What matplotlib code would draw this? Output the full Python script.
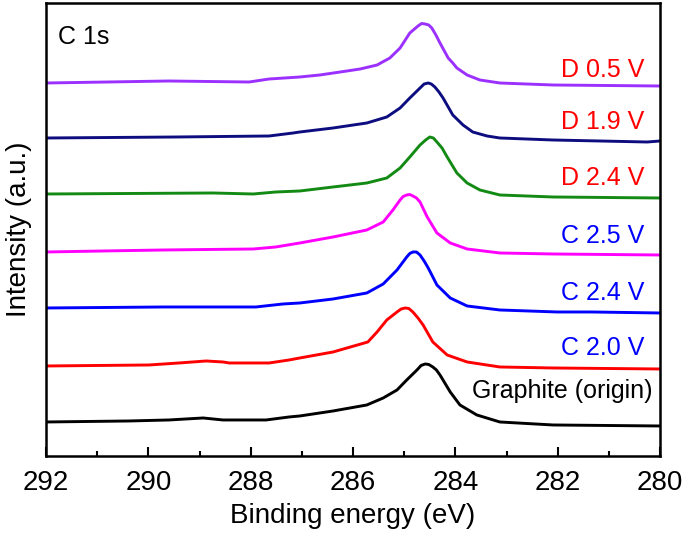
import matplotlib.pyplot as plt
from matplotlib.ticker import MultipleLocator

plt.rcParams['font.family'] = ['Liberation Sans', 'DejaVu Sans']

# C 1s spectra (stacked, arbitrary units)
graphite_e = [292.0, 290.38, 289.60, 288.93, 288.54, 287.70, 287.25, 287.04, 286.39,
              285.73, 285.41, 285.14, 284.95, 284.75, 284.67, 284.59, 284.52, 284.44,
              284.37, 284.30, 284.10, 283.91, 283.58, 283.13, 282.09, 280.0]
graphite_i = [34, 35, 36, 38, 36, 36, 39, 40, 45, 51, 58, 66, 76, 86, 90.5, 92, 91.5, 89,
              86, 81, 64, 51, 41, 34, 31, 30]

c20_e = [292.0, 289.99, 289.40, 288.87, 288.54, 288.42, 287.64, 287.25, 287.04, 286.39,
         285.71, 285.53, 285.34, 285.14, 285.06, 284.98, 284.91, 284.83, 284.73, 284.63,
         284.44, 284.16, 283.77, 283.13, 282.09, 280.0]
c20_i = [90, 91, 93, 95, 94, 93, 93, 96, 98, 104, 114, 124, 136, 144, 147, 148, 147.5,
         144, 138, 131, 114, 101, 94, 89, 88, 87]

c24_e = [292.0, 289.71, 287.90, 287.37, 287.04, 286.39, 285.73, 285.41, 285.14, 284.95,
         284.89, 284.83, 284.76, 284.69, 284.61, 284.53, 284.36, 284.10, 283.77, 283.13,
         282.01, 281.33, 280.0]
c24_i = [148, 149, 149, 152, 153, 157, 163, 172, 186, 199, 202.5, 204, 204, 201, 195,
         188, 171, 158, 150, 146, 144, 144, 143]

c25_e = [292.0, 290.89, 289.71, 287.95, 287.51, 287.04, 286.39, 285.73, 285.41, 285.22,
         285.08, 285.02, 284.95, 284.89, 284.83, 284.76, 284.69, 284.55, 284.36, 284.10,
         283.77, 283.13, 282.09, 280.0]
c25_i = [204, 205, 206, 207, 209, 213, 219, 226, 234, 246, 256, 259.5, 261, 261.5, 260,
         258, 254, 239, 223, 213, 207, 203, 202, 201]

d24_e = [292.0, 288.74, 287.95, 287.51, 287.04, 286.39, 285.73, 285.34, 285.08, 284.89,
         284.69, 284.58, 284.50, 284.43, 284.36, 284.26, 284.16, 283.97, 283.77, 283.52,
         283.13, 282.09, 280.0]
d24_i = [262, 263, 262, 264, 265, 269, 273, 278, 288, 299, 311, 316, 319, 318, 314,
         308, 299, 283, 273, 266, 261, 259, 258]

d19_e = [292.0, 289.46, 287.64, 287.17, 287.04, 286.39, 285.73, 285.34, 285.08, 284.89,
         284.69, 284.61, 284.53, 284.47, 284.40, 284.32, 284.24, 284.05, 283.85, 283.66,
         283.38, 283.13, 282.09, 280.25, 280.0]
d19_i = [318, 319, 320, 323, 324, 328, 333, 339, 348, 358, 368, 372, 373, 372, 369,
         364, 358, 341, 331, 324, 320, 318, 316, 314, 315]

d05_e = [292.0, 289.60, 288.03, 287.64, 287.04, 286.65, 286.25, 285.86, 285.53, 285.28,
         285.08, 284.89, 284.73, 284.66, 284.59, 284.52, 284.46, 284.38, 284.30, 284.14,
         284.05, 283.97, 283.77, 283.52, 283.13, 282.09, 280.0]
d05_i = [373, 375, 374, 377, 379, 381, 384, 387, 391, 398, 408, 423, 430, 432.5, 432,
         431, 428, 421, 413, 398, 393, 388, 381, 376, 373, 371, 370]

labels = ['Graphite (origin)', 'C 2.0 V', 'C 2.4 V', 'C 2.5 V', 'D 2.4 V', 'D 1.9 V', 'D 0.5 V']
label_y = [65, 108, 163, 220, 278, 334, 386]


def main():
    fig = plt.figure(figsize=(6.85, 5.36), dpi=100)
    ax = fig.add_axes([0.0672, 0.1493, 0.8963, 0.8451])

    series = [(graphite_e, graphite_i, 'black'),
              (c20_e, c20_i, '#ff0000'),
              (c24_e, c24_i, '#0000ff'),
              (c25_e, c25_i, '#ff00ff'),
              (d24_e, d24_i, '#138a13'),
              (d19_e, d19_i, '#0d0d80'),
              (d05_e, d05_i, '#9b30ff')]
    for e, i, color in series:
        ax.plot(e, i, color=color, lw=2.1, solid_joinstyle='round')

    label_colors = ['black', '#0000ff', '#0000ff', '#0000ff', '#ff0000', '#ff0000', '#ff0000']
    for text, y, color in zip(labels, label_y, label_colors):
        x = 280.15 if text.startswith('Graphite') else 280.3
        ax.text(x, y, text, color=color, fontsize=18, ha='right', va='center')

    ax.text(291.77, 419, 'C 1s', fontsize=18, ha='left', va='center')

    ax.set_xlim(292, 280)
    ax.set_ylim(0, 453)
    ax.xaxis.set_major_locator(MultipleLocator(2))
    ax.xaxis.set_minor_locator(MultipleLocator(1))
    ax.set_yticks([])
    ax.tick_params(axis='x', which='major', direction='in', length=6.5, width=1.5,
                   labelsize=20, pad=10)
    ax.tick_params(axis='x', which='minor', direction='in', length=3.3, width=1.5)
    for s in ax.spines.values():
        s.set_linewidth(1.8)

    ax.set_xlabel('Binding energy (eV)', fontsize=20, labelpad=5)
    ax.set_ylabel('Intensity (a.u.)', fontsize=20, labelpad=10)

    fig.savefig('out.png', dpi=100)


if __name__ == '__main__':
    main()
